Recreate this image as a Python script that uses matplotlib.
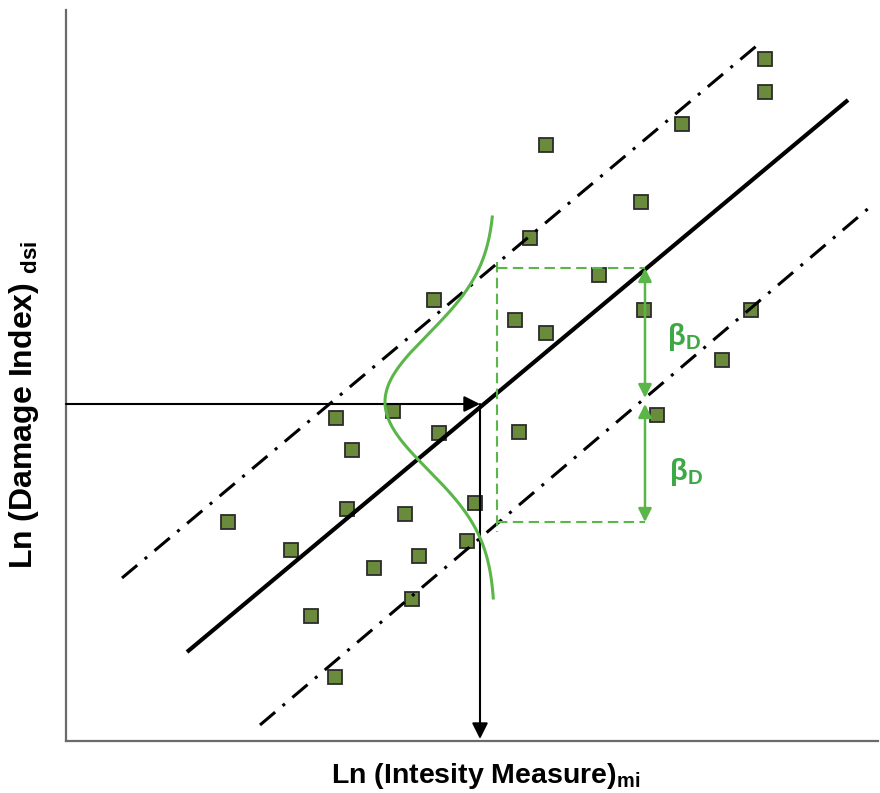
import numpy as np
import matplotlib
matplotlib.use('Agg')
import matplotlib.pyplot as plt

plt.rcParams['font.family'] = ['Liberation Sans', 'DejaVu Sans']
plt.rcParams['mathtext.fontset'] = 'custom'
plt.rcParams['mathtext.rm'] = 'Liberation Sans'
plt.rcParams['mathtext.bf'] = 'Liberation Sans:bold'
plt.rcParams['mathtext.it'] = 'Liberation Sans:italic'

im_obs = [765, 765, 682, 546, 641, 530, 599, 434, 644, 515, 546, 751, 722,
          336, 393, 657, 439, 519, 352, 475, 347, 405, 228, 467, 291, 419,
          374, 412, 311, 335]
di_obs = [59, 92, 124, 145, 202, 238, 275, 300, 310, 320, 333, 310, 360,
          418, 411, 415, 433, 432, 450, 503, 509, 514, 522, 541, 550, 556,
          568, 599, 616, 677]

# Median fit line and +/- beta_D bounds (end points)
fit_im = [187, 848]
fit_di = [652, 100]
upper_im = [122, 760]
upper_di = [578, 43]
lower_im = [260, 870]
lower_di = [725, 207]

# Target intensity / median damage
im_target = 480
di_target = 404

# Lognormal spread drawn at the target
pdf_base = 495
pdf_mean = 402
pdf_sigma = 68
pdf_height = 110
pdf_range = [217, 598]

# beta_D box
box_left = 497
box_right = 645
box_top = 268
box_mid = 401
box_bottom = 522

green = '#5bb64a'
green_txt = '#3ea847'
sq_face = '#6a8a3c'
sq_edge = '#2b2b2b'
spine_col = '#6a6a6a'

fig = plt.figure(figsize=(8.8, 7.93), dpi=100)
x0, x1, ytop, ybot = 66, 878, 10, 741
ax = fig.add_axes([x0 / 880, (793 - ybot) / 793, (x1 - x0) / 880, (ybot - ytop) / 793])
ax.set_xlim(x0, x1)
ax.set_ylim(ybot, ytop)
ax.set_xticks([])
ax.set_yticks([])
for s in ['top', 'right']:
    ax.spines[s].set_visible(False)
for s in ['left', 'bottom']:
    ax.spines[s].set_color(spine_col)
    ax.spines[s].set_linewidth(1.6)

# scatter
ax.plot(im_obs, di_obs, 's', ms=10.5, mfc=sq_face, mec=sq_edge, mew=1.3, zorder=2)

# lines
ax.plot(fit_im, fit_di, color='black', lw=3.0, solid_capstyle='butt', zorder=3)
dashdot = (0, (6.5, 3.2, 1.0, 3.2))
ax.plot(upper_im, upper_di, color='black', lw=2.2, linestyle=dashdot, zorder=3)
ax.plot(lower_im, lower_di, color='black', lw=2.2, linestyle=dashdot, zorder=3)

# black arrows
ax.annotate('', xy=(im_target, di_target), xytext=(x0, di_target),
            arrowprops=dict(arrowstyle='-|>', color='black', lw=1.5,
                            mutation_scale=24, shrinkA=0, shrinkB=0), zorder=4)
ax.annotate('', xy=(im_target, ybot - 2), xytext=(im_target, di_target),
            arrowprops=dict(arrowstyle='-|>', color='black', lw=1.5,
                            mutation_scale=24, shrinkA=0, shrinkB=0), zorder=4)

# green distribution
yy = np.linspace(pdf_range[0], pdf_range[1], 300)
xx = pdf_base - pdf_height * np.exp(-0.5 * ((yy - pdf_mean) / pdf_sigma) ** 2)
ax.plot(xx, yy, color=green, lw=2.2, zorder=4)

# green dashed box
dash = (0, (5, 2.6))
ax.plot([box_left, box_right], [box_top, box_top], color=green, lw=1.5, linestyle=dash, zorder=3)
ax.plot([box_left, box_right], [box_bottom, box_bottom], color=green, lw=1.5, linestyle=dash, zorder=3)
ax.plot([box_left, box_left], [box_top - 6, box_bottom + 10], color=green, lw=1.5, linestyle=dash, zorder=3)

# beta_D arrows
for a, b in [(box_top, box_mid - 3), (box_mid + 3, box_bottom)]:
    ax.annotate('', xy=(box_right, a), xytext=(box_right, b),
                arrowprops=dict(arrowstyle='<|-|>', color=green, lw=1.8,
                                mutation_scale=20, shrinkA=0, shrinkB=0), zorder=5)

ax.text(667, 337, r'$\mathbf{\beta_D}$', color=green_txt, fontsize=21,
        ha='left', va='center', zorder=5)
ax.text(669, 472, r'$\mathbf{\beta_D}$', color=green_txt, fontsize=21,
        ha='left', va='center', zorder=5)

# axis labels
ax.text(486, 776, r'$\mathbf{Ln\ (Intesity\ Measure)_{mi}}$', fontsize=20.5,
        ha='center', va='center', clip_on=False)
ax.text(24, 405, r'$\mathbf{Ln\ (Damage\ Index)\ _{dsi}}$', fontsize=23,
        ha='center', va='center', rotation=90, clip_on=False)

fig.savefig('out.png', dpi=100)
